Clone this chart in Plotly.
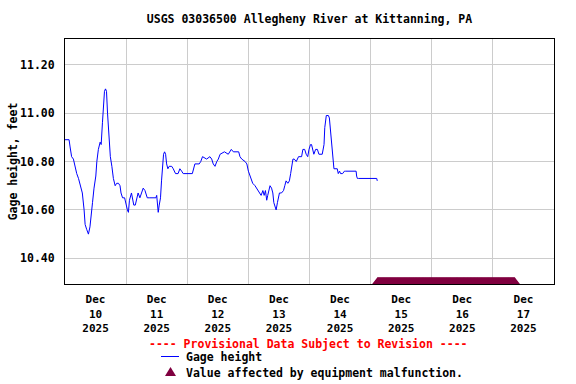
import pandas as pd
import plotly.graph_objects as go

# ---------------- data ----------------
START = pd.Timestamp("2025-12-10 00:00")
hours = [0.0, 1.6, 2.0, 2.6, 3.3, 3.9, 4.6, 5.3, 5.9, 6.8, 7.5, 7.9, 8.5, 9.2, 9.8, 10.2,
         10.8, 11.4, 12.1, 12.5, 13.1, 13.8, 14.2, 14.7, 15.1, 15.5, 15.9, 16.3, 16.7, 17.3,
         17.8, 18.4, 19.0, 19.7, 20.3, 21.0, 21.6, 22.0, 22.6, 23.4, 23.9, 24.5, 24.9, 25.3,
         26.1, 27.0, 27.6, 28.1, 28.7, 29.4, 30.0, 30.7, 31.4, 32.3, 33.3, 35.7, 36.0, 36.6,
         37.0, 37.5, 37.9, 38.3, 38.7, 39.1, 39.5, 39.9, 40.4, 40.9, 41.9, 42.5, 43.4, 44.4,
         45.1, 45.8, 46.4, 50.0, 50.4, 51.0, 52.7, 53.3, 54.0, 55.6, 56.9, 57.6, 58.2, 58.9,
         59.6, 60.2, 60.9, 62.6, 64.1, 65.3, 66.1, 68.2, 68.7, 69.4, 70.7, 71.4, 72.0, 72.7,
         73.7, 74.6, 75.7, 77.0, 77.7, 78.2, 78.7, 79.2, 79.6, 80.0, 80.5, 81.1, 81.6, 82.0,
         82.4, 82.9, 83.4, 83.8, 84.2, 85.0, 85.8, 86.3, 86.8, 87.5, 88.1, 88.6, 89.1, 89.5,
         90.0, 90.8, 91.7, 92.9, 93.4, 94.1, 94.7, 95.3, 95.8, 96.4, 96.8, 97.3, 97.7, 98.4,
         99.1, 99.7, 101.0, 101.7, 102.0, 102.6, 103.4, 103.8, 104.1, 104.5, 104.9, 105.2,
         105.6, 106.9, 107.3, 107.8, 108.2, 109.0, 109.7, 110.2, 110.6, 114.3, 114.5, 114.8,
         115.2, 122.4, 122.6]
gage_height = [10.89, 10.89, 10.86, 10.82, 10.81, 10.78, 10.75, 10.73, 10.70, 10.67, 10.60,
               10.54, 10.52, 10.50, 10.53, 10.58, 10.63, 10.69, 10.74, 10.80, 10.85, 10.88,
               10.87, 10.96, 11.03, 11.09, 11.10, 11.09, 11.00, 10.91, 10.82, 10.78, 10.73,
               10.70, 10.71, 10.71, 10.70, 10.67, 10.65, 10.65, 10.62, 10.60, 10.59, 10.64,
               10.67, 10.62, 10.62, 10.64, 10.67, 10.65, 10.67, 10.69, 10.68, 10.65, 10.65,
               10.65, 10.66, 10.59, 10.62, 10.65, 10.72, 10.80, 10.83, 10.84, 10.83, 10.79,
               10.77, 10.78, 10.78, 10.77, 10.75, 10.75, 10.77, 10.76, 10.75, 10.75, 10.77,
               10.79, 10.79, 10.80, 10.82, 10.81, 10.82, 10.81, 10.79, 10.78, 10.80, 10.81,
               10.83, 10.84, 10.83, 10.85, 10.84, 10.84, 10.82, 10.81, 10.80, 10.79, 10.76,
               10.74, 10.71, 10.70, 10.68, 10.66, 10.68, 10.66, 10.68, 10.64, 10.66, 10.68,
               10.70, 10.69, 10.67, 10.63, 10.62, 10.60, 10.63, 10.65, 10.67, 10.67, 10.68,
               10.70, 10.72, 10.71, 10.72, 10.75, 10.79, 10.81, 10.81, 10.80, 10.82, 10.82,
               10.85, 10.85, 10.83, 10.82, 10.85, 10.87, 10.87, 10.84, 10.83, 10.85, 10.85,
               10.83, 10.83, 10.87, 10.94, 10.99, 10.99, 10.98, 10.94, 10.91, 10.84, 10.79,
               10.77, 10.77, 10.75, 10.76, 10.75, 10.75, 10.76, 10.76, 10.76, 10.76, 10.74,
               10.73, 10.73, 10.73, 10.72]

malfunction_start = "2025-12-15 02:45"
malfunction_end = "2025-12-17 08:30"

day_labels = ["Dec<br>10<br>2025", "Dec<br>11<br>2025", "Dec<br>12<br>2025", "Dec<br>13<br>2025",
              "Dec<br>14<br>2025", "Dec<br>15<br>2025", "Dec<br>16<br>2025", "Dec<br>17<br>2025"]
y_ticks = [10.40, 10.60, 10.80, 11.00, 11.20]
y_tick_text = ["10.40", "10.60", "10.80", "11.00", "11.20"]

X_RANGE = ["2025-12-10 00:00", "2025-12-18 00:00"]
Y_RANGE = [10.294, 11.306]

# ---------------- figure ----------------
times = START + pd.to_timedelta(hours, unit="h")
mal_times = pd.date_range(malfunction_start, malfunction_end, freq="15min")
noon_ticks = pd.date_range("2025-12-10 12:00", periods=len(day_labels), freq="D")
midnights = pd.date_range("2025-12-11", "2025-12-17", freq="D")

FONT = "DejaVu Sans Mono"
MAROON = "#800040"

fig = go.Figure()
fig.add_trace(go.Scatter(x=times, y=gage_height, mode="lines",
                         line=dict(color="#0000ff", width=1), name="Gage height",
                         showlegend=False))
fig.add_trace(go.Scatter(x=mal_times, y=[0.007] * len(mal_times), yaxis="y2",
                         mode="markers", cliponaxis=False,
                         marker=dict(symbol="triangle-up", size=10.7, color=MAROON,
                                     line=dict(width=0)),
                         name="Value affected by equipment malfunction.", showlegend=False))

fig.update_layout(
    width=576, height=384,
    margin=dict(l=65, r=22, t=39, b=100, autoexpand=False),
    paper_bgcolor="white", plot_bgcolor="white",
    font=dict(family=FONT, size=11.5, color="black"),
    title=dict(text="<b>USGS 03036500 Allegheny River at Kittanning, PA</b>",
               x=0.5, xref="paper", xanchor="center",
               y=1 - 19 / 384, yref="container", yanchor="middle", automargin=False,
               font=dict(family=FONT, size=11.5, color="black")),
    xaxis=dict(type="date", range=X_RANGE, automargin=False,
               tickmode="array", tickvals=noon_ticks,
               ticktext=["<b>" + t.replace("<br>", "</b><br><b>") + "</b>" for t in day_labels],
               tickfont=dict(family=FONT, size=11),
               showgrid=False, ticks="", ticklabelstandoff=5,
               showline=True, linecolor="black", linewidth=1, mirror=True,
               zeroline=False,
               minor=dict(tickmode="array", tickvals=midnights, showgrid=True,
                          gridcolor="#cccccc", gridwidth=1, ticks="")),
    yaxis=dict(range=Y_RANGE, tickmode="array", tickvals=y_ticks, automargin=False,
               ticktext=["<b>" + t + "</b>" for t in y_tick_text],
               showgrid=True, gridcolor="#cccccc", gridwidth=1,
               ticks="", ticklabelstandoff=7,
               showline=True, linecolor="black", linewidth=1, mirror=True,
               zeroline=False,
               title=dict(text="<b>Gage height, feet</b>", standoff=0,
                          font=dict(family=FONT, size=11.5))),
    yaxis2=dict(overlaying="y", range=[0, 1], visible=False, fixedrange=True),
    showlegend=False,
)

# ---- custom legend below the plot ----
def px_x(p):
    return (p - 65) / 489


def px_y(p):
    return (284 - p) / 245


fig.add_annotation(text="<b>---- Provisional Data Subject to Revision ----</b>",
                   xref="paper", yref="paper", x=px_x(308), y=px_y(343.5),
                   xanchor="center", yanchor="middle", showarrow=False,
                   font=dict(family=FONT, size=11.5, color="#ff0000"))
fig.add_annotation(text="<b>Gage height</b>", xref="paper", yref="paper",
                   x=px_x(184), y=px_y(357), xanchor="left", yanchor="middle",
                   showarrow=False, font=dict(family=FONT, size=11.5, color="black"))
fig.add_annotation(text="<b>Value affected by equipment malfunction.</b>",
                   xref="paper", yref="paper", x=px_x(184), y=px_y(372.5),
                   xanchor="left", yanchor="middle", showarrow=False,
                   font=dict(family=FONT, size=11.5, color="black"))
fig.add_shape(type="line", xref="paper", yref="paper",
              x0=px_x(161), x1=px_x(179), y0=px_y(356.5), y1=px_y(356.5),
              line=dict(color="#0000ff", width=1))
fig.add_shape(type="path", xref="paper", yref="paper",
              xsizemode="pixel", ysizemode="pixel",
              xanchor=px_x(170.5), yanchor=px_y(371.5),
              path="M -5.5 -4.5 L 5.5 -4.5 L 0 4.5 Z",
              fillcolor=MAROON, line=dict(width=0))

fig.write_html("out.html",
               config={"displayModeBar": False, "staticPlot": True},
               post_script="document.body.style.margin='0';"
                           "document.body.style.overflow='hidden';")
